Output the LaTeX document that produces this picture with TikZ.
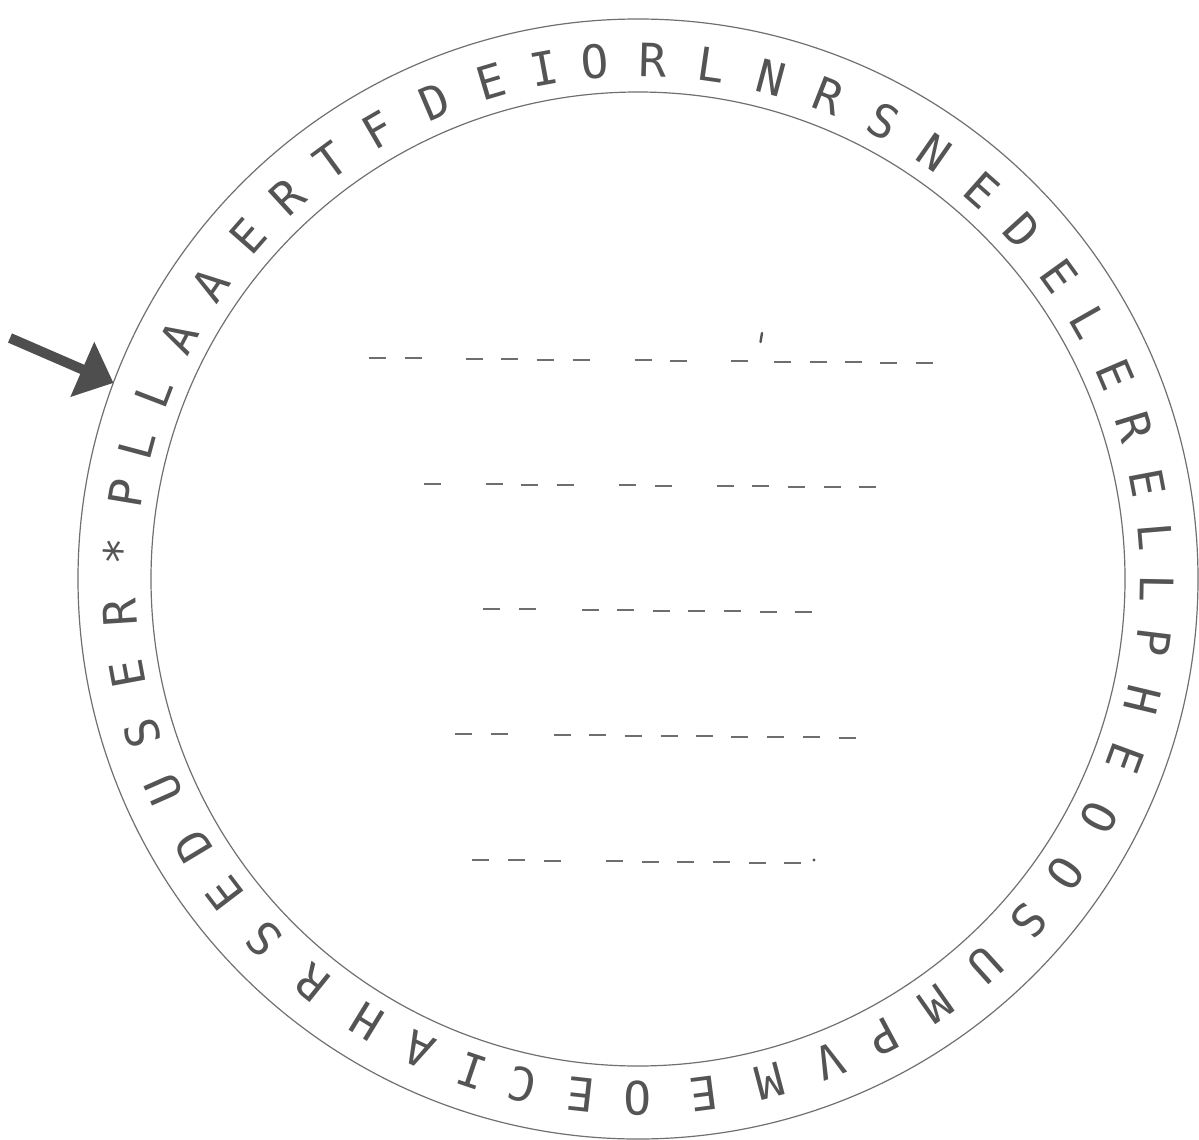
\documentclass[tikz,border=0pt]{standalone}
\usepackage{fontspec}
\setmonofont{DejaVu Sans Mono}
\usetikzlibrary{arrows.meta}
\definecolor{ink}{HTML}{545454}
\definecolor{ringc}{HTML}{707070}
\definecolor{arrowc}{HTML}{4E4E4E}
\begin{document}
\begin{tikzpicture}[x=1pt,y=-1pt,
  letter/.style={font=\ttfamily\fontsize{46}{46}\selectfont, text=ink, inner sep=0pt},
  ring/.style={draw=ringc, line width=1.2pt},
  blank/.style={draw=ink!85, line width=2pt}]
\useasboundingbox (0,0) rectangle (1199,1140);
\fill[white] (0,0) rectangle (1199,1140);
\coordinate (c) at (638,579);
\draw[ring] (c) circle[radius=560];
\draw[ring] (c) circle[radius=487];
\foreach \a/\t [count=\i] in {177/*,170.5/P,165/L,159/L,152.2/A,145.4/A,138.7/E,132.5/R,126.3/T,120.1/F,113.1/D,106.5/E,100.4/I,94.8/O,88.4/R,81.8/L,75.1/N,68.5/R,61.8/S,55.2/N,48.5/E,42.2/D,35.8/E,29.6/L,23.2/E,17/R,10.7/E,4.7/L,-1.1/L,-7/P,-13.5/H,-20.2/E,-27.3/O,-34.5/O,-41.2/S,-48/U,-55/M,-61.8/P,-68.3/V,-75.3/M,-82.7/E,-90/O,-96.3/E,-102.9/C,-108.7/I,-115/A,-121.5/H,-128.9/R,-136.1/S,-142.7/E,-149/D,-156.1/U,-162.7/S,-169.5/E,-176.3/R}
{
  \node[letter, rotate=\a-90] (l\i) at ({638+519*cos(\a)},{579-519*sin(\a)}) {\t};
}
% arrow
\coordinate (tail) at (10,338);
\coordinate (tip) at ({638+560*cos(159.5)},{579-560*sin(159.5)});
\draw[arrowc, line width=10pt, -{Triangle[length=34pt,width=58pt]}] (tail) -- (tip);
% blanks
\foreach \x in {377,413,474,509,545,581,643,678,739,782,818,853,888,924}
  \draw[blank] ({\x-8.5},{358+(\x-377)*0.009}) -- ({\x+8.5},{358+(\x-377)*0.009});
\coordinate (apos) at (762,333);
\draw[ink, line width=2.4pt, line cap=round] (apos) -- ++(-1.5,9);
\foreach \x in {432,494,529,565,627,663,725,760,796,832,867}
  \draw[blank] ({\x-8.5},{484+(\x-432)*0.007}) -- ({\x+8.5},{484+(\x-432)*0.007});
\foreach \x in {491,527,590,625,661,696,732,768,803}
  \draw[blank] ({\x-8.5},{609+(\x-491)*0.01}) -- ({\x+8.5},{609+(\x-491)*0.01});
\foreach \x in {463,499,562,597,633,669,704,739,775,811,847}
  \draw[blank] ({\x-8.5},{734+(\x-463)*0.01}) -- ({\x+8.5},{734+(\x-463)*0.01});
\foreach \x in {480,516,552,614,650,685,721,757,792}
  \draw[blank] ({\x-8.5},{860+(\x-480)*0.01}) -- ({\x+8.5},{860+(\x-480)*0.01});
\fill[ink] (814,860) circle[radius=1.6];
\end{tikzpicture}
\end{document}
